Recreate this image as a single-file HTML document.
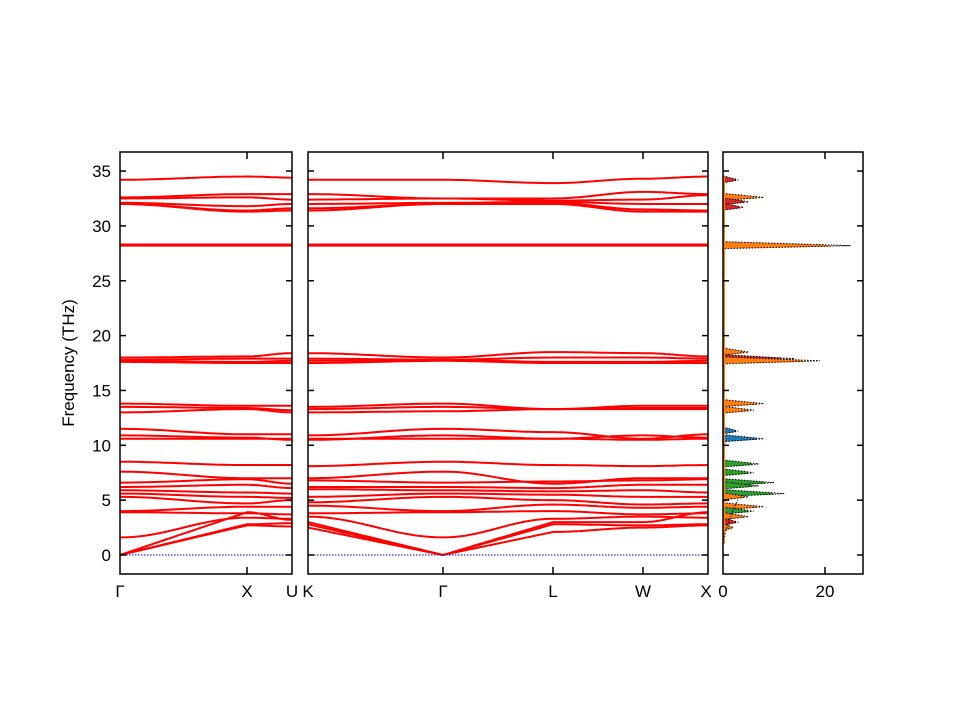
<!DOCTYPE html>
<html><head><meta charset="utf-8"><style>body{margin:0;background:#fff}svg{display:block}text{font-family:"Liberation Sans","DejaVu Sans",sans-serif;font-size:17px;fill:#000}</style></head>
<body>
<svg id="s" width="960" height="720" xmlns="http://www.w3.org/2000/svg">
<rect width="960" height="720" fill="#fff"/>
<g id="bands" fill="none" stroke="#f00" stroke-width="2"></g>
<g id="dos"></g>
<line x1="120" y1="555" x2="292" y2="555" stroke="#00a" stroke-width="1" stroke-dasharray="1.5,1.5"/>
<line x1="308" y1="555" x2="708" y2="555" stroke="#00a" stroke-width="1" stroke-dasharray="1.5,1.5"/>
<g id="ax" fill="none" stroke="#000" stroke-width="1.5">
<rect x="120" y="152" width="172" height="422"/>
<rect x="308" y="152" width="400" height="422"/>
<rect x="723" y="152" width="140" height="422"/>
</g>
<g id="tl"></g>
<text x="74" y="363" transform="rotate(-90 74 363)" text-anchor="middle">Frequency (THz)</text>
<g text-anchor="middle">
<text x="120" y="597">Γ</text><text x="247" y="597">X</text><text x="292" y="597">U</text>
<text x="308" y="597">K</text><text x="443" y="597">Γ</text><text x="553" y="597">L</text><text x="643" y="597">W</text><text x="706" y="597">X</text>
<text x="723" y="597">0</text><text x="825" y="597">20</text>
</g>
<g text-anchor="end" id="yl"></g>
</svg>
<script>
var Y=f=>555-10.97*f;
var xs=[120,247,292,308,443,553,643,708];
var B=[
[34.2,34.5,34.4,34.2,34.2,33.9,34.3,34.5],
[32.6,32.9,32.9,32.9,32.5,32.5,33.1,32.9],
[32.5,32.6,32.4,32.4,32.5,32.3,32.4,32.8],
[32.1,31.8,32.0,32.0,32.1,32.2,32.0,32.0],
[32.0,31.4,31.6,31.6,32.0,32.1,31.5,31.4],
[32.0,31.3,31.4,31.4,32.0,32.0,31.3,31.3],
[28.3,28.3,28.3,28.3,28.3,28.3,28.3,28.3],[28.2,28.2,28.2,28.2,28.2,28.2,28.2,28.2],
[18.0,18.1,18.4,18.4,18.0,18.5,18.4,18.1],
[17.8,17.9,17.9,17.9,17.8,18.0,18.0,17.9],
[17.7,17.6,17.7,17.7,17.8,17.6,17.6,17.7],
[17.6,17.5,17.5,17.5,17.7,17.5,17.5,17.5],
[13.8,13.6,13.6,13.5,13.8,13.3,13.6,13.6],
[13.5,13.4,13.2,13.3,13.5,13.3,13.4,13.4],
[13.0,13.3,13.0,13.0,13.1,13.3,13.3,13.3],
[11.5,11.0,11.0,10.9,11.5,11.2,10.6,11.0],
[10.9,10.7,10.5,10.5,10.9,10.6,10.9,10.7],
[10.6,10.6,10.6,10.6,10.6,10.6,10.5,10.6],
[8.5,8.2,8.2,8.1,8.5,8.2,8.1,8.2],
[7.6,7.0,7.0,7.0,7.6,6.5,7.0,7.0],
[6.6,6.9,6.5,6.8,6.6,6.7,6.8,6.9],
[6.2,6.4,6.1,6.2,6.2,6.1,6.4,6.4],
[5.9,5.7,5.6,6.0,5.9,5.8,5.9,5.7],
[5.6,5.3,5.2,5.3,5.6,5.5,5.3,5.3],
[5.3,4.7,5.0,4.8,5.3,5.0,4.6,4.7],
[4.0,4.4,4.4,4.5,4.0,4.6,4.3,4.4],
[3.9,3.8,3.7,3.8,3.9,4.0,3.7,3.8],
[1.6,3.4,3.3,3.5,1.6,3.3,3.5,3.4],
[0,3.9,3.2,3.0,0,3.0,3.0,3.9],
[0,2.8,2.9,2.8,0,2.8,2.7,2.8],
[0,2.7,2.6,2.5,0,2.1,2.5,2.7]];
var g='';
B.forEach(b=>{
 [[0,2],[3,7]].forEach(r=>{var d='';
  for(var i=r[0];i<r[1];i++){var x0=xs[i],x1=xs[i+1],a=b[i],c=b[i+1],lin=(a==0||c==0);
   for(var k=0;k<=20;k++){var t=k/20,u=lin?t:(1-Math.cos(Math.PI*t))/2;
    d+=(d?'L':'M')+(x0+(x1-x0)*t).toFixed(1)+','+Y(a+(c-a)*u).toFixed(1);}}
  g+='<path d="'+d+'"/>';});
});
document.getElementById('bands').innerHTML=g;
// ticks
var t='',yl='';
for(var f=0;f<=35;f+=5){var y=Y(f);
 [[120,292],[308,708],[723,863]].forEach(p=>{t+='<line x1="'+p[0]+'" y1="'+y+'" x2="'+(p[0]+6)+'" y2="'+y+'"/><line x1="'+(p[1]-6)+'" y1="'+y+'" x2="'+p[1]+'" y2="'+y+'"/>';});
 yl+='<text x="111" y="'+(y+6)+'">'+f+'</text>';}
[247,443,553,643].forEach(x=>{t+='<line x1="'+x+'" y1="574" x2="'+x+'" y2="567"/><line x1="'+x+'" y1="152" x2="'+x+'" y2="159"/>';});
t+='<line x1="825" y1="574" x2="825" y2="567"/><line x1="825" y1="152" x2="825" y2="159"/>';
document.getElementById('tl').innerHTML='<g stroke="#000" stroke-width="1.5">'+t+'</g>';
document.getElementById('yl').innerHTML=yl;
// DOS
var peaks=[[34.2,3,'#d62728'],[32.6,8,'#ff7f0e'],[32.2,5,'#d62728'],[31.7,4,'#d62728'],[28.2,25,'#ff7f0e'],[18.5,5,'#ff7f0e'],[17.9,14,'#d62728'],[17.7,19,'#ff7f0e'],
[13.8,8,'#ff7f0e'],[13.2,6,'#ff7f0e'],[11.3,3,'#1f77b4'],[10.6,8,'#1f77b4'],[8.3,7,'#2ca02c'],[7.5,6,'#2ca02c'],[6.6,10,'#2ca02c'],[6.3,7,'#2ca02c'],[5.6,12,'#2ca02c'],[5.3,5,'#ff7f0e'],[4.4,8,'#ff7f0e'],[4.0,6,'#2ca02c'],[3.5,5,'#ff7f0e'],[3.0,3,'#d62728'],[2.5,2,'#ff7f0e']];
var ds='';
peaks.forEach(p=>{var y=Y(p[0]),w=p[1]*5.1;
 ds+='<polygon points="723,'+(y-4)+' '+(723+w*0.8)+','+(y-1)+' '+(723+w*0.85)+','+(y+1)+' 723,'+(y+3)+'" fill="'+p[2]+'"/>';
 ds+='<polyline points="723,'+(y-4)+' '+(723+w)+','+y+' 723,'+(y+3)+'" fill="none" stroke="#000" stroke-width="1" stroke-dasharray="1.5,1.5"/>';});
ds+='<line x1="724" y1="'+Y(1)+'" x2="724" y2="'+Y(34.5)+'" stroke="#ff7f0e" stroke-width="2"/>';
ds+='<polyline points="723,540 728,525 733,510 738,500" fill="none" stroke="#000" stroke-dasharray="1.5,1.5"/>';
document.getElementById('dos').innerHTML=ds;
</script>
</body></html>
